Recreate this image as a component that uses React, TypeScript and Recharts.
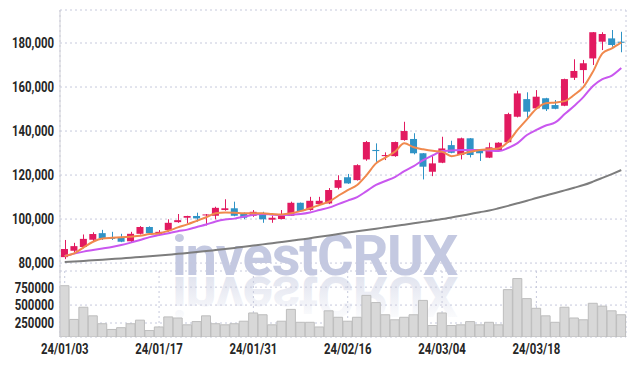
import { ComposedChart, Bar, Line, XAxis, YAxis, CartesianGrid } from "recharts";

const DATES = [
  "24/01/03", "24/01/04", "24/01/05", "24/01/08", "24/01/09", "24/01/10", "24/01/11", "24/01/12", "24/01/15", "24/01/16",
  "24/01/17", "24/01/18", "24/01/19", "24/01/22", "24/01/23", "24/01/24", "24/01/25", "24/01/26", "24/01/29", "24/01/30",
  "24/01/31", "24/02/01", "24/02/02", "24/02/05", "24/02/06", "24/02/07", "24/02/08", "24/02/13", "24/02/14", "24/02/15",
  "24/02/16", "24/02/19", "24/02/20", "24/02/21", "24/02/22", "24/02/23", "24/02/26", "24/02/27", "24/02/28", "24/02/29",
  "24/03/04", "24/03/05", "24/03/06", "24/03/07", "24/03/08", "24/03/11", "24/03/12", "24/03/13", "24/03/14", "24/03/15",
  "24/03/18", "24/03/19", "24/03/20", "24/03/21", "24/03/22", "24/03/25", "24/03/26", "24/03/27", "24/03/28", "24/03/29",
];

const OPEN = [
  82700, 85600, 87300, 90600, 93600, 91500, 91700, 89900, 93300, 96400,
  93000, 95000, 98600, 100600, 101400, 101700, 101500, 104100, 104900, 102300,
  101500, 102600, 99700, 100000, 101500, 107400, 104100, 106800, 107100, 114200,
  119000, 117700, 127100, 131400, 128600, 128600, 135900, 136400, 129900, 121500,
  125600, 133600, 129100, 136700, 131100, 127900, 131100, 134900, 146500, 154500,
  150300, 154900, 151800, 151500, 164200, 167700, 173000, 180600, 182100, 180600,
];
const HIGH = [
  90500, 89200, 93000, 94000, 95100, 94200, 93300, 94200, 96800, 96700,
  95000, 99900, 102300, 101500, 102900, 102300, 105600, 109000, 107900, 103000,
  104100, 103300, 101500, 104100, 107900, 107500, 110100, 110100, 114100, 119900,
  120500, 124900, 135500, 134400, 130300, 135200, 144200, 139000, 130000, 128600,
  137400, 135600, 137000, 136800, 131200, 134700, 134900, 148300, 158300, 157600,
  158600, 155100, 154100, 163800, 172600, 172300, 185000, 184900, 185900, 185100,
];
const LOW = [
  81800, 84900, 86700, 89700, 90500, 90500, 89500, 89400, 93000, 93300,
  92700, 94200, 98300, 98000, 98800, 97100, 99900, 103800, 101300, 99900,
  101000, 98300, 98300, 99900, 101400, 103500, 103800, 106500, 106800, 113500,
  116000, 117500, 126500, 126000, 126800, 128300, 135600, 129400, 118000, 119500,
  125400, 129900, 127100, 128000, 126400, 127700, 130600, 134700, 146200, 145500,
  149900, 149100, 149900, 151300, 163200, 161700, 170000, 176800, 178300, 175800,
];
const CLOSE = [
  86400, 87700, 91000, 93200, 91200, 91000, 89700, 93300, 96400, 93600,
  94200, 98300, 99500, 101400, 100300, 102100, 105100, 104900, 101500, 100600,
  103300, 99900, 100600, 101500, 107400, 103600, 108300, 108300, 113200, 117700,
  116200, 124500, 135000, 130900, 129100, 135000, 140000, 129900, 123800, 125300,
  132100, 130100, 136700, 129100, 129900, 132600, 134700, 147700, 157100, 148800,
  155600, 149900, 150100, 163600, 167300, 170800, 184900, 184100, 179100, 180100,
];
const VOLUME = [
  770000, 300000, 470000, 350000, 240000, 160000, 185000, 240000, 290000, 145000,
  195000, 335000, 320000, 225000, 270000, 350000, 240000, 225000, 240000, 275000,
  390000, 365000, 225000, 275000, 440000, 260000, 260000, 195000, 420000, 330000,
  275000, 330000, 635000, 535000, 365000, 295000, 330000, 365000, 565000, 215000,
  390000, 215000, 225000, 270000, 225000, 260000, 225000, 715000, 870000, 590000,
  455000, 350000, 260000, 470000, 320000, 295000, 525000, 485000, 420000, 365000,
];
const MA_SHORT = [
  83200, 84400, 87100, 89700, 91200, 91500, 91700, 92000, 92400, 93200,
  93500, 94700, 96200, 97600, 99200, 100800, 102600, 103000, 102900, 102600,
  102600, 102600, 102300, 102100, 102600, 103600, 104900, 106400, 107900, 110600,
  113200, 115500, 120000, 125300, 127900, 130600, 134400, 132600, 131700, 131000,
  130600, 128600, 129500, 130600, 131400, 131700, 132100, 135100, 140500, 145300,
  150100, 152600, 153000, 153600, 156400, 160100, 167000, 175300, 177600, 180300,
];
const MA_MID = [
  83200, 84300, 85200, 85900, 86600, 87300, 88200, 89300, 90500, 91800,
  92700, 93600, 94500, 95200, 96400, 97500, 98900, 99800, 100200, 101100,
  102000, 102300, 102000, 101800, 102000, 102300, 103000, 104100, 105200, 106800,
  108400, 110000, 112700, 115500, 117300, 119100, 121800, 124100, 126800, 128900,
  130900, 131100, 131400, 131400, 131400, 131100, 130900, 132300, 134500, 138200,
  140500, 142500, 143900, 147700, 151400, 155500, 160500, 163600, 165200, 168600,
];
const MA_LONG = [
  80450, 80700, 80980, 81250, 81520, 81820, 82130, 82450, 82760, 83080,
  83410, 83800, 84200, 84600, 85000, 85450, 85920, 86400, 86900, 87400,
  87950, 88500, 89050, 89600, 90150, 90680, 91300, 91920, 92550, 93200,
  93860, 94450, 95050, 95650, 96230, 96820, 97450, 98080, 98720, 99360,
  100000, 100750, 101500, 102300, 103100, 103860, 104900, 106000, 107150, 108300,
  109540, 110700, 111850, 113050, 114250, 115450, 117000, 118700, 120450, 122270,
];

const DATE_TICKS = ["24/01/03", "24/01/17", "24/01/31", "24/02/16", "24/03/04", "24/03/18"];
const PRICE_TICKS = [80000, 100000, 120000, 140000, 160000, 180000];
const VOLUME_TICKS = [250000, 500000, 750000];

const UP = "#e21a60";
const DOWN = "#2f93c6";
const GRID = "#c6c9dc";

const data = DATES.map((date, i) => ({
  date,
  open: OPEN[i],
  high: HIGH[i],
  low: LOW[i],
  close: CLOSE[i],
  range: [LOW[i], HIGH[i]],
  volume: VOLUME[i],
  maShort: MA_SHORT[i],
  maMid: MA_MID[i],
  maLong: MA_LONG[i],
}));

// narrow-looking tick text (no condensed font installed, so squeeze Roboto)
const Tick = (props: any) => {
  const { x, y, payload, textAnchor, fmt } = props;
  const isY = textAnchor === "end";
  const label = fmt ? fmt(payload.value) : payload.value;
  return (
    <g transform={`translate(${x},${y})`}>
      <text
        transform="scale(0.76,1)"
        textAnchor={isY ? "end" : "middle"}
        dy={isY ? "0.36em" : "0.71em"}
        fontFamily="Roboto, sans-serif"
        fontWeight={700}
        fontSize={15}
        fill="#262626"
      >
        {label}
      </text>
    </g>
  );
};

const Candle = (props: any) => {
  const { x, y, width, height, payload } = props;
  if (!payload) return null;
  const { open, close, high, low } = payload;
  const top = Math.min(y, y + height);
  const h = Math.abs(height);
  const k = h / (high - low || 1);
  const yOf = (v: number) => top + (high - v) * k;
  const color = close >= open ? UP : DOWN;
  const bodyTop = yOf(Math.max(open, close));
  const bodyH = Math.max(1, Math.abs(yOf(open) - yOf(close)));
  const cx = Math.round(x + width / 2) + 0.5;
  return (
    <g>
      <line x1={cx} x2={cx} y1={top} y2={top + h} stroke={color} strokeWidth={1} />
      <rect x={x} y={bodyTop} width={width} height={bodyH} fill={color} />
    </g>
  );
};

// watermark + its mirrored reflection, sits behind both panes
const Watermark = () => (
  <svg width={634} height={366} style={{ position: "absolute", left: 0, top: 0 }}>
    <defs>
      <linearGradient id="fade" gradientUnits="userSpaceOnUse" x1="0" y1="276" x2="0" y2="236">
        <stop offset="0" stopColor="#dcdfec" stopOpacity={0.85} />
        <stop offset="1" stopColor="#dcdfec" stopOpacity={0.15} />
      </linearGradient>
    </defs>
    <text x={172} y={275} fontFamily="Roboto, sans-serif" fontWeight={700} fontSize={56} fill="#c4c9e1" letterSpacing={-1.2}>
      investCRUX
    </text>
    <g transform="translate(0,552) scale(1,-1)">
      <text x={172} y={275} fontFamily="Roboto, sans-serif" fontWeight={700} fontSize={56} fill="url(#fade)" letterSpacing={-1.2}>
        investCRUX
      </text>
    </g>
  </svg>
);

const fmtPrice = (v: number) => v.toLocaleString("en-US");

export default function App() {
  return (
    <div style={{ position: "absolute", left: 0, top: 0, width: 634, height: 366, background: "#fff" }}>
      <Watermark />
      <div style={{ position: "absolute", left: 0, top: 0 }}>
        <ComposedChart width={634} height={271} data={data} margin={{ top: 10, right: 8, bottom: 0, left: 0 }}>
          <CartesianGrid stroke={GRID} strokeDasharray="2 3" />
          <XAxis
            dataKey="date"
            ticks={DATE_TICKS}
            tick={false}
            tickLine={false}
            height={0}
            axisLine={{ stroke: "#cfcfd6" }}
          />
          <YAxis
            domain={[76400, 195000]}
            allowDataOverflow
            ticks={PRICE_TICKS}
            interval={0}
            width={60}
            tickSize={0}
            tickMargin={6}
            tickLine={false}
            axisLine={{ stroke: "#cfcfd6" }}
            tick={<Tick fmt={fmtPrice} />}
          />
          <Bar dataKey="range" barSize={7} shape={<Candle />} isAnimationActive={false} />
          <Line dataKey="maLong" type="monotone" stroke="#7d7d7d" strokeWidth={2} dot={false} isAnimationActive={false} />
          <Line dataKey="maMid" type="monotone" stroke="#c957ef" strokeWidth={2} dot={false} isAnimationActive={false} />
          <Line dataKey="maShort" type="monotone" stroke="#f0894d" strokeWidth={2} dot={false} isAnimationActive={false} />
        </ComposedChart>
      </div>
      <div style={{ position: "absolute", left: 0, top: 271 }}>
        <ComposedChart width={634} height={95} data={data} margin={{ top: 0, right: 8, bottom: 0, left: 0 }}>
          <CartesianGrid stroke={GRID} strokeDasharray="2 3" />
          <XAxis
            dataKey="date"
            ticks={DATE_TICKS}
            height={29}
            tickSize={0}
            tickMargin={6}
            tickLine={false}
            axisLine={false}
            tick={<Tick />}
            interval={0}
          />
          <YAxis
            domain={[55000, 975000]}
            allowDataOverflow
            ticks={VOLUME_TICKS}
            interval={0}
            width={60}
            tickSize={0}
            tickMargin={6}
            tickLine={false}
            axisLine={{ stroke: "#cfcfd6" }}
            tick={<Tick />}
          />
          <Bar dataKey="volume" barSize={9} fill="#d8d8d8" stroke="#bdbdbd" strokeWidth={1} isAnimationActive={false} />
        </ComposedChart>
      </div>
    </div>
  );
}
